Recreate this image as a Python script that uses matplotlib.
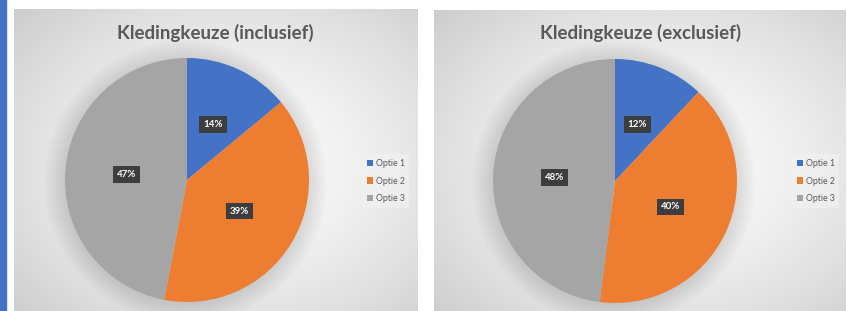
import numpy as np
import matplotlib.pyplot as plt
from matplotlib.patches import Rectangle, Circle

W, H = 847, 311

options = ["Optie 1", "Optie 2", "Optie 3"]
titles = ["Kledingkeuze (inclusief)", "Kledingkeuze (exclusief)"]
inclusief = [14, 39, 47]
exclusief = [12, 40, 48]
colors = ["#4472C4", "#ED7D31", "#A5A5A5"]

plt.rcParams['font.family'] = ['Lato', 'DejaVu Sans']

fig = plt.figure(figsize=(W / 100, H / 100), dpi=100)
fig.patch.set_facecolor("white")


def px_axes(x0, y0, w, h):
    # rect in pixel coords measured from top-left
    return fig.add_axes([x0 / W, (H - y0 - h) / H, w / W, h / H])


# blue stripe on the left
fig.patches.append(Rectangle((0, 0), 6 / W, 1, transform=fig.transFigure,
                             color="#4472C4", zorder=0))

panels = [
    dict(x=14, y=9, w=403, h=310, cx=187, cy=180, title_x=215, leg_x=358),
    dict(x=434, y=10, w=412, h=310, cx=615, cy=181, title_x=641, leg_x=788),
]
data = [inclusief, exclusief]

for p, vals, title in zip(panels, data, titles):
    # panel background with radial gradient
    bg = px_axes(p["x"], p["y"], p["w"], p["h"])
    yy, xx = np.mgrid[0:1:200j, 0:1:260j]
    r = np.sqrt(((xx - 0.55) / 0.75) ** 2 + ((yy - 0.5) / 0.75) ** 2)
    g = 0.99 - 0.19 * np.clip(r, 0, 1) ** 1.5
    bg.imshow(np.dstack([g, g, g]), extent=[0, 1, 0, 1], aspect="auto",
              origin="lower")
    bg.set_axis_off()

    rad = 122
    ax = px_axes(p["cx"] - rad, p["cy"] - rad, 2 * rad, 2 * rad)
    ax.set_xlim(-1, 1)
    ax.set_ylim(-1, 1)
    ax.set_axis_off()
    # soft shadow around the pie
    for k in range(16):
        ax.add_patch(Circle((-0.01, -0.015), 1.0 + 0.011 * k, color="black",
                            alpha=0.009, lw=0, zorder=0, clip_on=False))

    wedges, _, autotexts = ax.pie(vals, colors=colors, startangle=90,
                                  counterclock=False, radius=1.0,
                                  autopct="%.0f%%", pctdistance=0.5,
                                  wedgeprops=dict(linewidth=0),
                                  frame=False)
    ax.set_xlim(-1, 1)
    ax.set_ylim(-1, 1)
    for t in autotexts:
        t.set_color("white")
        t.set_fontsize(7)
        t.set_fontweight("bold")
        t.set_bbox(dict(boxstyle="square,pad=0.4", fc="#3d3d3d", ec="none"))

    fig.text(p["title_x"] / W, 1 - 33 / H, title, ha="center", va="center",
             fontsize=13.5, fontweight="bold", color="#595959")

    leg = fig.legend(wedges, options, loc="upper left",
                     bbox_to_anchor=(p["leg_x"] / W, 1 - 150 / H),
                     fontsize=6.3, frameon=True, handlelength=0.7,
                     handleheight=0.7, handletextpad=0.3, labelspacing=1.0,
                     borderpad=0.5, fancybox=False)
    leg.get_frame().set_facecolor("#f2f2f2")
    leg.get_frame().set_edgecolor("none")
    leg.get_frame().set_alpha(0.6)
    for t in leg.get_texts():
        t.set_color("#595959")

fig.savefig("out.png", dpi=100)
